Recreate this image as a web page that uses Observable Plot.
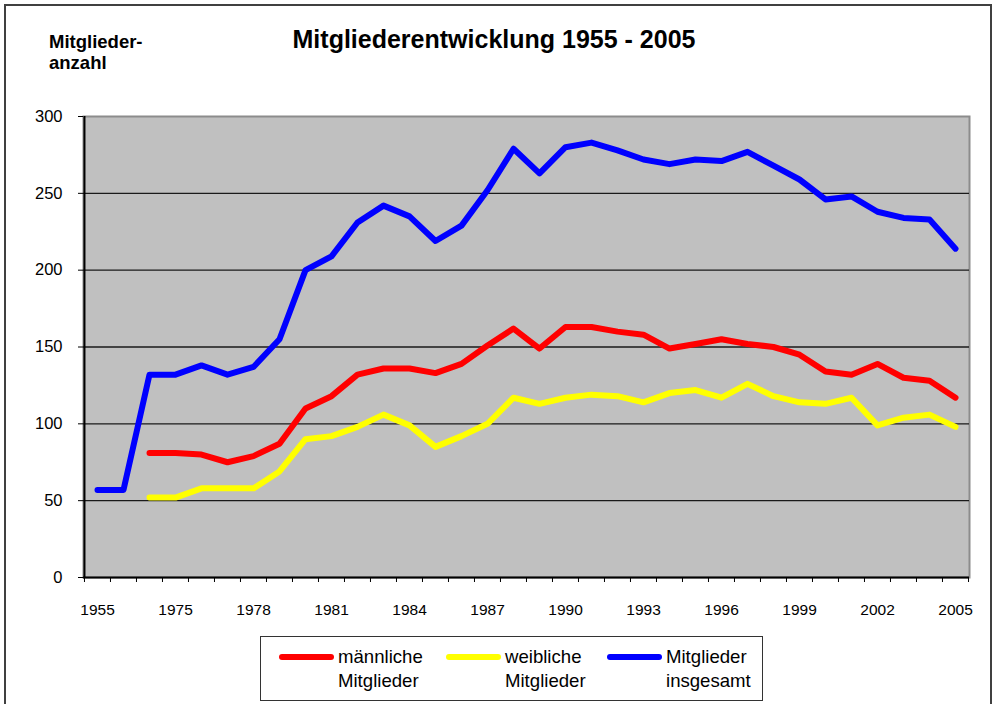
<!DOCTYPE html>
<html>
<head>
<meta charset="utf-8">
<script src="https://cdn.jsdelivr.net/npm/d3@7"></script>
<script src="https://cdn.jsdelivr.net/npm/@observablehq/plot@0.6"></script>
<style>
  html, body { margin: 0; padding: 0; background: #fff; overflow: hidden; }
  #page { position: relative; width: 992px; height: 704px; font-family: "Liberation Sans", Arial, sans-serif; color: #000; }
  #border { position: absolute; left: 4px; top: 4px; width: 984px; height: 760px; border: 2px solid #404040; }
  #title { position: absolute; left: 0; top: 25px; width: 988px; text-align: center; font-weight: bold; font-size: 25px; line-height: 28px; }
  #ylabel { position: absolute; left: 49px; top: 31px; font-weight: bold; font-size: 18.5px; line-height: 21px; }
  #chart { position: absolute; left: 0; top: 90px; }
  #legend { position: absolute; left: 260px; top: 636px; width: 501px; height: 63px; border: 1.5px solid #333; background: #fff; }
  .item { position: absolute; top: 8px; font-size: 18.6px; line-height: 24px; }
  .sw { position: absolute; top: 9px; height: 6px; border-radius: 3px; }
  .txt { position: absolute; white-space: nowrap; }
</style>
</head>
<body>
<div id="page">
  <div id="border"></div>
  <div id="title">Mitgliederentwicklung 1955 - 2005</div>
  <div id="ylabel">Mitglieder-<br>anzahl</div>
  <div id="chart"></div>
  <div id="legend"></div>
</div>
<script>
// Categories (x axis)
const years = ["1955","1965","1974","1975","1976","1977","1978","1979","1980","1981","1982","1983","1984","1985","1986","1987","1988","1989","1990","1991","1992","1993","1994","1995","1996","1997","1998","1999","2000","2001","2002","2003","2004","2005"];
// Visible x tick labels
const xLabels = ["1955","1975","1978","1981","1984","1987","1990","1993","1996","1999","2002","2005"];
// Y ticks
const yTicks = [0, 50, 100, 150, 200, 250, 300];

// Series
const maennlich = [null,null,81,81,80,75,79,87,110,118,132,136,136,133,139,151,162,149,163,163,160,158,149,152,155,152,150,145,134,132,139,130,128,117];
const weiblich  = [null,null,52,52,58,58,58,69,90,92,98,106,99,85,92,100,117,113,117,119,118,114,120,122,117,126,118,114,113,117,99,104,106,98];
const gesamt    = [57,57,132,132,138,132,137,155,200,209,231,242,235,219,229,252,279,263,280,283,278,272,269,272,271,277,268,259,246,248,238,234,233,214];

const seriesNames = ["männliche\nMitglieder", "weibliche\nMitglieder", "Mitglieder\ninsgesamt"];
const seriesColors = ["#ff0000", "#ffff00", "#0000ff"];

const rows = years.map((y, i) => ({year: y, m: maennlich[i], w: weiblich[i], g: gesamt[i]}));

const W = 992, H = 540, mL = 83, mR = 23, mT = 26, mB = 53;
const step = (W - mL - mR) / years.length;

const lineOpts = {strokeWidth: 6, strokeLinejoin: "round", strokeLinecap: "round"};
const font = "'Liberation Sans', Arial, sans-serif";

const chart = Plot.plot({
  width: W, height: H,
  marginLeft: mL, marginRight: mR, marginTop: mT, marginBottom: mB,
  style: {fontFamily: font, fontSize: "15px", color: "#000", background: "transparent", overflow: "visible"},
  x: {type: "point", domain: years, padding: 0.5, axis: null, label: null},
  y: {domain: [0, 300], axis: null, label: null},
  marks: [
    Plot.frame({fill: "#c0c0c0", stroke: "#8c8c8c", strokeWidth: 2}),
    Plot.ruleY(yTicks.slice(1, -1), {stroke: "#1a1a1a", strokeWidth: 1.3}),
    Plot.ruleY([0], {stroke: "#000", strokeWidth: 2}),
    Plot.ruleX([years[0]], {dx: -step / 2, stroke: "#000", strokeWidth: 2}),
    // y ticks + labels
    Plot.axisY({ticks: yTicks, tickSize: 5, text: null, stroke: "#000", strokeOpacity: 1, label: null}),
    Plot.text(yTicks, {y: d => d, frameAnchor: "left", dx: -21, textAnchor: "end", fontSize: 16.5, fill: "#000"}),
    // x category boundary ticks
    Plot.axisX({ticks: years, tickSize: 5, text: null, dx: -step / 2, stroke: "#000", strokeOpacity: 1, label: null}),
    Plot.axisX({ticks: [years[years.length - 1]], tickSize: 5, text: null, dx: step / 2, stroke: "#000", strokeOpacity: 1, label: null}),
    // x labels
    Plot.text(xLabels, {x: d => d, frameAnchor: "bottom", dy: 33, lineAnchor: "middle", fontSize: 15.5, fill: "#000"}),
    Plot.line(rows, {x: "year", y: "m", stroke: seriesColors[0], ...lineOpts}),
    Plot.line(rows, {x: "year", y: "w", stroke: seriesColors[1], ...lineOpts}),
    Plot.line(rows, {x: "year", y: "g", stroke: seriesColors[2], ...lineOpts})
  ]
});
document.getElementById("chart").appendChild(chart);

// Legend
const legend = document.getElementById("legend");
const itemX = [18, 185, 346];
seriesNames.forEach((name, i) => {
  const item = document.createElement("div");
  item.className = "item";
  item.style.left = itemX[i] + "px";
  const sw = document.createElement("div");
  sw.className = "sw";
  sw.style.left = "0px";
  sw.style.width = "55px";
  sw.style.background = seriesColors[i];
  const txt = document.createElement("div");
  txt.className = "txt";
  txt.style.left = "59px";
  txt.style.top = "0px";
  txt.innerHTML = name.split("\n").join("<br>");
  item.appendChild(sw);
  item.appendChild(txt);
  legend.appendChild(item);
});
</script>
</body>
</html>
